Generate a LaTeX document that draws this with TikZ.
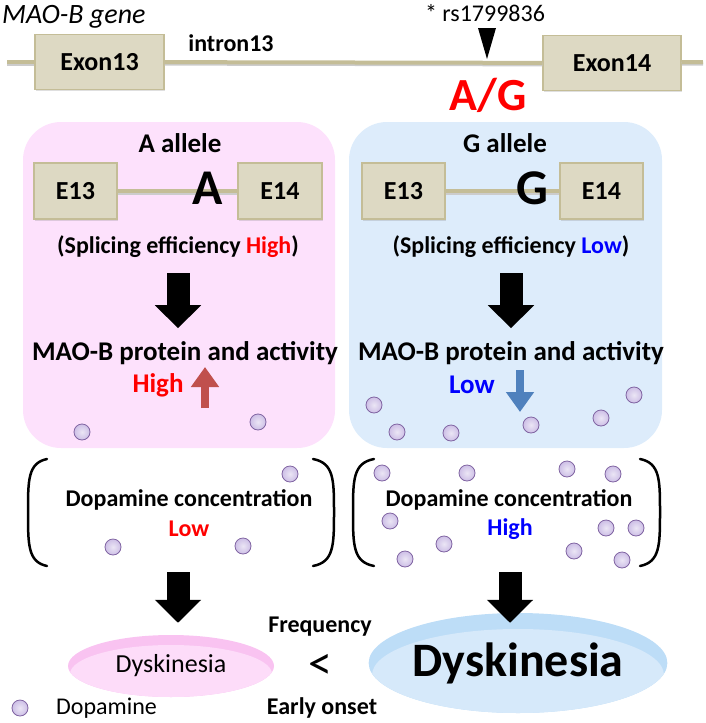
\documentclass[tikz,border=0pt]{standalone}
\usepackage{fontspec}
\setmainfont{Carlito}
\usepackage{tikz}
\usetikzlibrary{arrows.meta,shapes.geometric,shadows}

\definecolor{exonfill}{HTML}{DDD9C3}
\definecolor{exonline}{HTML}{C4BD97}
\definecolor{pinkbox}{HTML}{FDE1FC}
\definecolor{bluebox}{HTML}{DDECFB}
\definecolor{uparrow}{HTML}{C0504D}
\definecolor{downarrow}{HTML}{4F81BD}
\definecolor{dopafill}{HTML}{CDBFE6}
\definecolor{dopaline}{HTML}{8064A2}
\definecolor{pinkdisc}{HTML}{F9C3F1}
\definecolor{pinkdisctop}{HTML}{FDDCF9}
\definecolor{bluedisc}{HTML}{BDDDF7}
\definecolor{bluedisctop}{HTML}{D6E9FA}

\newcommand{\fsz}[1]{\fontsize{#1}{#1}\selectfont}

\begin{document}
\begin{tikzpicture}[x=1pt,y=-1pt,
  exon/.style={draw=exonline, fill=exonfill, line width=1.5pt, inner sep=0pt,
    minimum height=55pt, font=\bfseries\fsz{26},
    drop shadow={shadow xshift=1pt,shadow yshift=-1.5pt,opacity=.25}},
  intron/.style={exonline, line width=4pt,
    preaction={draw=black!20, line width=4pt, transform canvas={yshift=-1.5pt}}},
  title/.style={font=\bfseries\fsz{27}, inner sep=0pt},
  note/.style={font=\bfseries\fsz{24}, inner sep=0pt},
  fatarrow/.style={line width=23pt, -{Triangle[width=45pt,length=23pt]}},
  thinarrow/.style={line width=8pt, -{Triangle[width=27pt,length=20pt]}},
  bracket/.style={line width=2.5pt, line cap=round},
  dopa/.style={circle, minimum size=16pt, inner sep=0pt, draw=dopaline,
    line width=0.8pt, inner color=white!60!dopafill, outer color=dopafill},
  disc/.style={ellipse, inner sep=0pt}
]
\useasboundingbox (0,0) rectangle (706,723);

% Gene with the two exons
\node[anchor=base west, inner sep=0pt, font=\itshape\fsz{28}] (gene) at (2,23) {MAO-B gene};
\coordinate (gl) at (7,62);
\coordinate (gr) at (703,62);
\node[exon, minimum width=129pt] (ex13) at (99.5,62) {Exon13};
\node[exon, minimum width=138pt] (ex14) at (612,63) {Exon14};
\draw[intron] (gl) -- (ex13);
\draw[intron] (ex13) -- (ex14);
\draw[intron] (ex14) -- (gr);
\node[note] (intron) at (231,43) {intron13};

% SNP marker
\node[font=\fsz{24}, inner sep=0pt] (snp) at (485,13) {* rs1799836};
\fill (478,28) -- (496,28) -- (487,59) -- cycle;
\node[font=\bfseries\fsz{46}, text=red, inner sep=0pt] (snpbase) at (488,95) {A/G};

% Panels
\fill[pinkbox, rounded corners=38pt] (23,122) rectangle (335,448);
\fill[bluebox, rounded corners=38pt] (349,122) rectangle (662,448);

% A allele
\node[title] (aal) at (180,143) {A allele};
\node[exon, minimum width=83pt, minimum height=56pt] (ae13) at (75.5,191) {E13};
\node[exon, minimum width=84pt, minimum height=56pt] (ae14) at (280,191) {E14};
\draw[intron] (ae13) -- (ae14);
\node[font=\bfseries\fsz{50}, inner sep=0pt] (abase) at (208,188) {A};
\node[note] (aspl) at (178,247) {(Splicing efficiency \textcolor{red}{High})};
\node[title] (amao) at (185,353) {MAO-B protein and activity};
\node[title, text=red] (ahigh) at (158,385) {High};
\draw[fatarrow, shorten <=15pt, shorten >=13pt] (aspl.south) -- (aspl.south |- amao.north);
\coordinate (aup) at (205,408);
\draw[thinarrow, uparrow] (aup) -- ++(0,-41);

% G allele
\node[title] (gal) at (505,143) {G allele};
\node[exon, minimum width=83pt, minimum height=56pt] (ge13) at (403.5,191) {E13};
\node[exon, minimum width=83pt, minimum height=56pt] (ge14) at (601.5,191) {E14};
\draw[intron] (ge13) -- (ge14);
\node[font=\bfseries\fsz{50}, inner sep=0pt] (gbase) at (532,188) {G};
\node[note] (gspl) at (511,247) {(Splicing efficiency \textcolor{blue}{Low})};
\node[title] (gmao) at (511,353) {MAO-B protein and activity};
\node[title, text=blue] (glow) at (472,385) {Low};
\draw[fatarrow, shorten <=15pt, shorten >=13pt] (gspl.south) -- (gspl.south |- gmao.north);
\coordinate (gdown) at (520,370);
\draw[thinarrow, downarrow] (gdown) -- ++(0,42);

% Brackets round the dopamine pools
\foreach \xa/\xb in {47/28, 313/334, 374/353, 640/660}
  \draw[bracket] (\xa,459) .. controls (\xb,463) and (\xb,480) .. (\xb,512)
                           .. controls (\xb,545) and (\xb,562) .. (\xa,566);
\node[note] (lconc) at (189,500) {Dopamine concentration};
\node[note, text=red] (llow) at (189,529) {Low};
\node[note] (rconc) at (509,500) {Dopamine concentration};
\node[note, text=blue] (rhigh) at (510,529) {High};

% Dopamine molecules
\foreach \px/\py [count=\i] in {82/432, 258/422, 290/474, 113/547, 243/546}
  \node[dopa] (ld\i) at (\px,\py) {};
\foreach \px/\py [count=\i] in {374/405, 397/432, 451/433, 531/425, 601/418, 634/395,
    382/473, 467/473, 567/469, 613/474, 390/521, 444/544, 405/559, 574/551,
    606/528, 636/528, 622/560}
  \node[dopa] (rd\i) at (\px,\py) {};

% Outcome
\node[disc, fill=pinkdisc, minimum width=206pt, minimum height=62pt, font=\fsz{26},
  path picture={\fill[pinkdisctop] ([yshift=-8pt]path picture bounding box.center)
    ellipse [x radius=101pt, y radius=29pt];}] (ldys) at (171,666) {Dyskinesia};
\node[disc, fill=bluedisc, minimum width=298pt, minimum height=100pt, font=\bfseries\fsz{48},
  path picture={\fill[bluedisctop] ([yshift=-12pt]path picture bounding box.center)
    ellipse [x radius=146pt, y radius=46pt];}] (rdys) at (518,663) {Dyskinesia};
\coordinate (lgo) at (178,572);
\coordinate (rgo) at (510,572);
\draw[fatarrow, shorten >=12pt] (lgo) -- (lgo |- ldys.north);
\draw[fatarrow, shorten >=-10pt] (rgo) -- (rgo |- rdys.north);
\node[note] (freq) at (320,627) {Frequency};
\node[font=\fsz{48}, inner sep=0pt] (less) at (320,667) {<};
\node[note] (onset) at (322,708) {Early onset};

% Legend
\node[dopa] (legdot) at (20,708) {};
\node[anchor=west, font=\fsz{24}, inner sep=0pt] (legtxt) at (56,708) {Dopamine};
\end{tikzpicture}
\end{document}
